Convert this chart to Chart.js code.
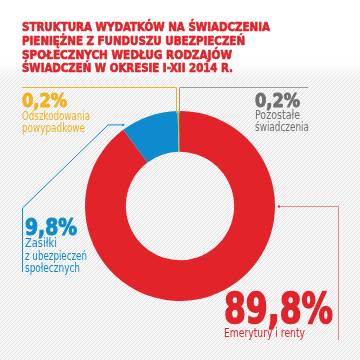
<!DOCTYPE html>
<html>
<head>
<meta charset="utf-8">
<script src="https://cdn.jsdelivr.net/npm/chart.js@4.4.1/dist/chart.umd.min.js"></script>
<style>
  html, body { margin: 0; padding: 0; background: #fff; }
  #wrap { width: 360px; height: 360px; position: relative; }
</style>
</head>
<body>
<div id="wrap"><canvas id="chart" width="360" height="360"></canvas></div>
<script>
const titleLines = [
    'STRUKTURA WYDATKÓW NA ŚWIADCZENIA',
    'PIENIĘŻNE Z FUNDUSZU UBEZPIECZEŃ',
    'SPOŁECZNYCH WEDŁUG RODZAJÓW',
    'ŚWIADCZEŃ W OKRESIE I-XII 2014 R.'
];
const categories = ['Emerytury i renty', 'Zasiłki z ubezpieczeń społecznych', 'Odszkodowania powypadkowe', 'Pozostałe świadczenia'];
const labelLines = [
    ['Emerytury i renty'],
    ['Zasiłki', 'z ubezpieczeń', 'społecznych'],
    ['Odszkodowania', 'powypadkowe'],
    ['Pozostałe', 'świadczenia']
];
const shares = [89.8, 9.8, 0.2, 0.2];
const colors = ['#e2232a', '#0e8bce', '#f2b21c', '#6f6f6f'];

const condensed = "'Liberation Sans Narrow', 'DejaVu Sans Condensed', sans-serif";
const fmt = v => v.toFixed(1).replace('.', ',') + '%';

// striped background
const backdrop = {
    id: 'backdrop',
    beforeDraw(chart) {
        const ctx = chart.ctx;
        const p = document.createElement('canvas');
        p.width = 4; p.height = 4;
        const pc = p.getContext('2d');
        pc.fillStyle = '#f7f7f7';
        pc.fillRect(0, 0, 4, 4);
        pc.strokeStyle = '#e2e2e2';
        pc.lineWidth = 1;
        pc.beginPath();
        pc.moveTo(-1, 5); pc.lineTo(5, -1);
        pc.moveTo(-1, 1); pc.lineTo(1, -1);
        pc.moveTo(3, 5); pc.lineTo(5, 3);
        pc.stroke();
        ctx.save();
        ctx.fillStyle = '#fff';
        ctx.fillRect(0, 0, chart.width, chart.height);
        ctx.fillStyle = ctx.createPattern(p, 'repeat');
        ctx.fillRect(0, 62, chart.width, chart.height - 62);
        const g = ctx.createLinearGradient(0, 62, 0, 80);
        g.addColorStop(0, 'rgba(255,255,255,1)');
        g.addColorStop(1, 'rgba(255,255,255,0)');
        ctx.fillStyle = g;
        ctx.fillRect(0, 62, chart.width, 18);
        ctx.restore();
    }
};

function heavyText(ctx, text, x, y, w, weight) {
    ctx.fillText(text, x, y, w);
    ctx.lineWidth = weight;
    ctx.strokeStyle = ctx.fillStyle;
    ctx.lineJoin = 'round';
    ctx.strokeText(text, x, y, w);
}

const annotations = {
    id: 'annotations',
    afterDraw(chart) {
        const ctx = chart.ctx;
        const arc = chart.getDatasetMeta(0).data[0];
        const cx = arc.x, cy = arc.y, R = arc.outerRadius;
        ctx.save();
        ctx.textBaseline = 'alphabetic';
        ctx.textAlign = 'left';

        // title
        ctx.fillStyle = '#e2232a';
        ctx.font = 'bold 13px ' + condensed;
        const titleW = [248, 223, 210, 211];
        const titleY = [31, 45, 58.5, 72];
        titleLines.forEach((t, i) => heavyText(ctx, t, 22, titleY[i], titleW[i], 0.7));

        // leader lines
        ctx.lineWidth = 1;
        // yellow
        ctx.strokeStyle = colors[2];
        ctx.beginPath();
        ctx.moveTo(22, 87.5); ctx.lineTo(cx - 3.5, 87.5); ctx.lineTo(cx - 3.5, cy - R + 2);
        ctx.stroke();
        // gray
        ctx.strokeStyle = '#9a9a9a';
        ctx.beginPath();
        ctx.moveTo(308, 87.5); ctx.lineTo(cx - 0.5, 87.5); ctx.lineTo(cx - 0.5, cy - R + 2);
        ctx.stroke();
        // blue
        const a = -35 * Math.PI / 180;
        const bx = cx + (R + 4) * Math.sin(a), by = cy - (R + 4) * Math.cos(a);
        ctx.strokeStyle = colors[1];
        ctx.beginPath();
        ctx.moveTo(bx, by); ctx.lineTo(bx - 15, by); ctx.lineTo(22.5, 208); ctx.lineTo(22.5, 272);
        ctx.stroke();
        ctx.fillStyle = colors[1];
        ctx.fillRect(bx - 1, by - 1, 2, 2);
        // red
        ctx.strokeStyle = '#d98a8d';
        ctx.beginPath();
        ctx.moveTo(cx + R + 4, cy + 0.5); ctx.lineTo(338.5, cy + 0.5); ctx.lineTo(338.5, 340);
        ctx.stroke();
        ctx.fillStyle = colors[0];
        ctx.fillRect(cx + R + 3, cy - 0.5, 2, 2);

        // values and descriptions
        const spots = [
            { x: 224, y: 323, size: 42, w: 109, heavy: 1.6, lines: [337], lw: [81] },
            { x: 25, y: 235, size: 23, w: 52, heavy: 1, lines: [247, 259.5, 271.5], lw: [32, 62, 55] },
            { x: 22, y: 107, size: 19, w: 45, heavy: 0.9, lines: [120, 132], lw: [68, 63] },
            { x: 255, y: 107, size: 19, w: 45, heavy: 0.9, lines: [118.5, 130.5], lw: [45, 54] }
        ];
        spots.forEach((s, i) => {
            ctx.fillStyle = colors[i];
            ctx.font = 'bold ' + s.size + 'px ' + condensed;
            heavyText(ctx, fmt(shares[i]), s.x, s.y, s.w, s.heavy);
            ctx.font = '11.5px ' + condensed;
            labelLines[i].forEach((l, j) => ctx.fillText(l, s.x, s.lines[j], s.lw[j]));
        });
        ctx.restore();
    }
};

new Chart(document.getElementById('chart'), {
    type: 'doughnut',
    data: {
        labels: categories,
        datasets: [{
            data: shares,
            backgroundColor: colors,
            borderWidth: 0,
            hoverOffset: 0
        }]
    },
    options: {
        responsive: false,
        animation: false,
        cutout: '57%',
        layout: { padding: { top: 111, bottom: 59, left: 85, right: 85 } },
        plugins: {
            legend: { display: false },
            tooltip: { enabled: false }
        }
    },
    plugins: [backdrop, annotations]
});
</script>
</body>
</html>
